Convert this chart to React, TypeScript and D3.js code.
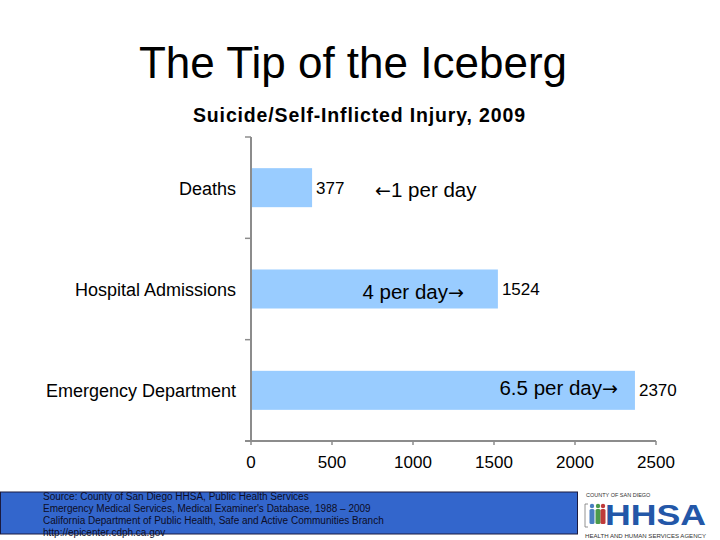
import React, { useEffect, useRef } from "react";
import { select, scaleLinear, scaleBand } from "d3";

// data
const categories = ["Deaths", "Hospital Admissions", "Emergency Department"];
const counts = [377, 1524, 2370];
// per-day notes: [arrow before, text, arrow after]
const perDay = [
    ["\u2190", "1 per day", ""],
    ["", "4 per day", "\u2192"],
    ["", "6.5 per day", "\u2192"],
];
const xTicks = [0, 500, 1000, 1500, 2000, 2500];
const sourceLines = [
    "Source: County of San Diego HHSA, Public Health Services",
    "Emergency Medical Services, Medical Examiner's Database, 1988 \u2013 2009",
    "California Department of Public Health, Safe and Active Communities Branch",
    "http://epicenter.cdph.ca.gov",
];

const W = 720;
const H = 540;
const FONT = "Arial, 'Liberation Sans', sans-serif";
const ARROW_FONT = "'DejaVu Sans', sans-serif";

const App = () => {
    const ref = useRef<SVGSVGElement>(null);

    useEffect(() => {
        const svg = select(ref.current);
        svg.selectAll("*").remove();

        const x = scaleLinear().domain([0, 2500]).range([251, 656]);
        const y = scaleBand<string>()
            .domain(categories)
            .range([137, 441])
            .paddingInner(0.615)
            .paddingOuter(0.3075);

        // title
        svg.append("text")
            .attr("x", 353).attr("y", 78)
            .attr("text-anchor", "middle")
            .attr("font-family", FONT).attr("font-size", 44)
            .text("The Tip of the Iceberg");

        svg.append("text")
            .attr("x", 193).attr("y", 122)
            .attr("font-family", FONT).attr("font-size", 19.5).attr("font-weight", "bold")
            .attr("textLength", 332).attr("lengthAdjust", "spacing")
            .text("Suicide/Self-Inflicted Injury, 2009");

        // bars
        const g = svg.append("g");
        g.selectAll("rect.bar")
            .data(counts)
            .join("rect")
            .attr("class", "bar")
            .attr("x", x(0))
            .attr("y", (_, i) => y(categories[i])!)
            .attr("width", (d) => x(d) - x(0))
            .attr("height", y.bandwidth())
            .attr("fill", "#99CCFF");

        // axes (drawn by hand, Excel style)
        const axisColor = "#8c8c8c";
        const [y0, y1] = y.range();
        g.append("line")
            .attr("x1", x(0)).attr("x2", x(0))
            .attr("y1", y0).attr("y2", y1)
            .attr("stroke", axisColor).attr("stroke-width", 2);
        const step = y.step();
        [0, 1, 2, 3].forEach((k) => {
            g.append("line")
                .attr("x1", x(0) - 6).attr("x2", x(0))
                .attr("y1", y0 + k * step).attr("y2", y0 + k * step)
                .attr("stroke", axisColor).attr("stroke-width", 1.5);
        });
        g.append("line")
            .attr("x1", x(0) - 6).attr("x2", x(2500))
            .attr("y1", y1).attr("y2", y1)
            .attr("stroke", axisColor).attr("stroke-width", 2);
        xTicks.forEach((t) => {
            g.append("line")
                .attr("x1", x(t)).attr("x2", x(t))
                .attr("y1", y1).attr("y2", y1 + 4)
                .attr("stroke", axisColor).attr("stroke-width", 1.5);
            g.append("text")
                .attr("x", x(t)).attr("y", y1 + 27)
                .attr("text-anchor", "middle")
                .attr("font-family", FONT).attr("font-size", 17)
                .text(t);
        });

        // category labels
        categories.forEach((c) => {
            g.append("text")
                .attr("x", 236)
                .attr("y", y(c)! + y.bandwidth() / 2 + 7)
                .attr("text-anchor", "end")
                .attr("font-family", FONT).attr("font-size", 18)
                .text(c);
        });

        // value labels
        counts.forEach((v, i) => {
            g.append("text")
                .attr("x", x(v) + 4)
                .attr("y", y(categories[i])! + y.bandwidth() / 2 + 6)
                .attr("font-family", FONT).attr("font-size", 17)
                .text(v);
        });

        // per-day notes
        const notePos = [
            { dx: 63, anchor: "start", dy: 9 },
            { dx: -34, anchor: "end", dy: 10 },
            { dx: -17, anchor: "end", dy: 5 },
        ];
        perDay.forEach(([pre, s, post], i) => {
            const p = notePos[i];
            const t = g.append("text")
                .attr("x", x(counts[i]) + p.dx)
                .attr("y", y(categories[i])! + y.bandwidth() / 2 + p.dy)
                .attr("text-anchor", p.anchor)
                .attr("font-family", FONT).attr("font-size", 20.5);
            if (pre) t.append("tspan").attr("font-family", ARROW_FONT).attr("font-size", 19).text(pre);
            t.append("tspan").text(s);
            if (post) t.append("tspan").attr("font-family", ARROW_FONT).attr("font-size", 19).text(post);
        });

        // source box
        svg.append("rect")
            .attr("x", 0.5).attr("y", 492)
            .attr("width", 577).attr("height", 42)
            .attr("fill", "#3366CC").attr("stroke", "#1a1a40").attr("stroke-width", 1);
        sourceLines.forEach((s, i) => {
            svg.append("text")
                .attr("x", 43).attr("y", 500 + i * 12)
                .attr("font-family", FONT).attr("font-size", 10)
                .attr("fill", "#0d0d26")
                .text(s);
        });

        // HHSA logo
        const logo = svg.append("g");
        logo.append("text")
            .attr("x", 586).attr("y", 497)
            .attr("font-family", FONT).attr("font-size", 5.5)
            .attr("fill", "#333")
            .text("COUNTY OF SAN DIEGO");
        logo.append("path")
            .attr("d", "M588,504 L585,504 L585,527 L588,527")
            .attr("fill", "none").attr("stroke", "#777").attr("stroke-width", 0.8);
        const figures = [
            { cx: 592, c: "#4a7fc0" },
            { cx: 598, c: "#4b9a4b" },
            { cx: 603, c: "#c03a3a" },
        ];
        figures.forEach((f) => {
            logo.append("circle").attr("cx", f.cx).attr("cy", 506).attr("r", 2.2).attr("fill", f.c);
            logo.append("rect")
                .attr("x", f.cx - 2.5).attr("y", 509)
                .attr("width", 5).attr("height", 15)
                .attr("rx", 1.5)
                .attr("fill", f.c);
        });
        logo.append("text")
            .attr("x", 605).attr("y", 525)
            .attr("font-family", FONT).attr("font-size", 30).attr("font-weight", "bold")
            .attr("fill", "#2357a8")
            .attr("textLength", 101).attr("lengthAdjust", "spacingAndGlyphs")
            .text("HHSA");
        logo.append("text")
            .attr("x", 585).attr("y", 537.5)
            .attr("font-family", FONT).attr("font-size", 5)
            .attr("fill", "#333")
            .attr("textLength", 121).attr("lengthAdjust", "spacingAndGlyphs")
            .text("HEALTH AND HUMAN SERVICES AGENCY");
    }, []);

    return (
        <svg
            ref={ref}
            width={W}
            height={H}
            style={{ position: "absolute", left: 0, top: 0, background: "#fff", display: "block" }}
        />
    );
};

export default App;
